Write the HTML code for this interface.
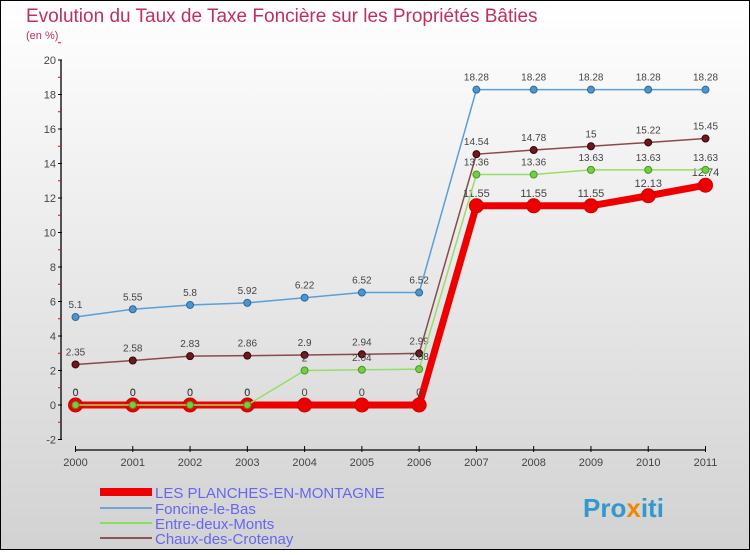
<!DOCTYPE html>
<html><head><meta charset="utf-8"><style>
html,body{margin:0;padding:0}
body{width:750px;height:550px;overflow:hidden;font-family:"Liberation Sans",sans-serif}
</style></head><body>
<svg width="750" height="550" xmlns="http://www.w3.org/2000/svg">
<defs><linearGradient id="bg" x1="0" y1="0" x2="0" y2="1"><stop offset="0" stop-color="#ffffff"/><stop offset="1" stop-color="#d2d2d2"/></linearGradient></defs>
<rect x="0.5" y="0.5" width="749" height="549" fill="url(#bg)" stroke="#000"/>
<text x="26" y="22" font-size="19" fill="#c0305a">Evolution du Taux de Taxe Foncière sur les Propriétés Bâties</text>
<text x="26" y="39" font-size="11" fill="#c0305a">(en %)</text>
<g id="axes"></g>
<g id="series"></g>
<g font-size="15" fill="#6666ee">
<rect x="100" y="488" width="52" height="8" fill="#ee0000"/>
<text x="155" y="498">LES PLANCHES-EN-MONTAGNE</text>
<line x1="100" y1="508" x2="152" y2="508" stroke="#6ea6cc" stroke-width="2"/>
<text x="155" y="514">Foncine-le-Bas</text>
<line x1="100" y1="523" x2="152" y2="523" stroke="#88dd66" stroke-width="2"/>
<text x="155" y="529">Entre-deux-Monts</text>
<line x1="100" y1="538" x2="152" y2="538" stroke="#8a5555" stroke-width="2"/>
<text x="155" y="544">Chaux-des-Crotenay</text>
</g>
<g font-size="26" font-weight="bold">
<text x="583" y="517" fill="#3399cc">Pro<tspan fill="#ee8800">x</tspan><tspan fill="#3399cc">iti</tspan></text>
</g>
</svg>
<script>
const years=[2000,2001,2002,2003,2004,2005,2006,2007,2008,2009,2010,2011];
const planches=[0,0,0,0,0,0,0,11.55,11.55,11.55,12.13,12.74];
const foncine=[5.1,5.55,5.8,5.92,6.22,6.52,6.52,18.28,18.28,18.28,18.28,18.28];
const entre=[0,0,0,0,2,2.04,2.08,13.36,13.36,13.63,13.63,13.63];
const chaux=[2.35,2.58,2.83,2.86,2.9,2.94,2.99,14.54,14.78,15,15.22,15.45];
const yTicks=[-2,0,2,4,6,8,10,12,14,16,18,20];
const NS="http://www.w3.org/2000/svg";
const x=i=>75.5+i*(705.5-75.5)/(years.length-1);
const y=v=>405-v*17.25;
function mk(t,a,p){const e=document.createElementNS(NS,t);for(const k in a)e.setAttribute(k,a[k]);p.appendChild(e);return e;}
const ax=document.getElementById('axes');
const yl=mk('line',{x1:61,y1:y(20),x2:61,y2:y(-2),stroke:'#000','stroke-width':1.3},ax);


yTicks.forEach(v=>{
 mk('line',{x1:58,y1:y(v),x2:62,y2:y(v),stroke:'#000'},ax);
 mk('line',{x1:58,y1:y(v+1),x2:61,y2:y(v+1),stroke:'#e00'},ax);
 const t=mk('text',{x:56,y:y(v)+4,'text-anchor':'end','font-size':11,fill:'#444'},ax);t.textContent=v;
 
 
});
const xl=mk('line',{x1:75,y1:450,x2:706,y2:450,stroke:'#000','stroke-width':1.3},ax);


years.forEach((yr,i)=>{
 mk('line',{x1:x(i),y1:446,x2:x(i),y2:452,stroke:'#000'},ax);
 const t=mk('text',{x:x(i),y:466,'text-anchor':'middle','font-size':11,fill:'#444'},ax);t.textContent=yr;
 
 
});
const sg=document.getElementById('series');
function series(vals,name,color,w,r,dot,stroke,fs){
 const g=mk('g',{},sg);
 
 
 const pl=mk('polyline',{points:vals.map((v,i)=>x(i)+','+y(v)).join(' '),fill:'none',stroke:color,'stroke-width':w},g);
 
 
 vals.forEach((v,i)=>{
  const c=mk('circle',{cx:x(i),cy:y(v),r:r,fill:dot,stroke:stroke,'stroke-width':1},g);
  
  
  const t=mk('text',{x:x(i),y:y(v)-9,'text-anchor':'middle','font-size':fs,fill:'#444'},g);t.textContent=v;
  
  
 });
}
series(foncine,'foncine','#5b9fd4',1.5,3.5,'#4f94cc','#2a6a99',10);
series(chaux,'chaux','#8a4a4a',1.5,3.5,'#661a22','#440000',10);
series(planches,'planches','#ee0000',7,7,'#ee0000','#cc0000',11);
series(entre,'entre','#99dd66',1.5,3.5,'#77cc44','#449922',10);
</script>
</body></html>
